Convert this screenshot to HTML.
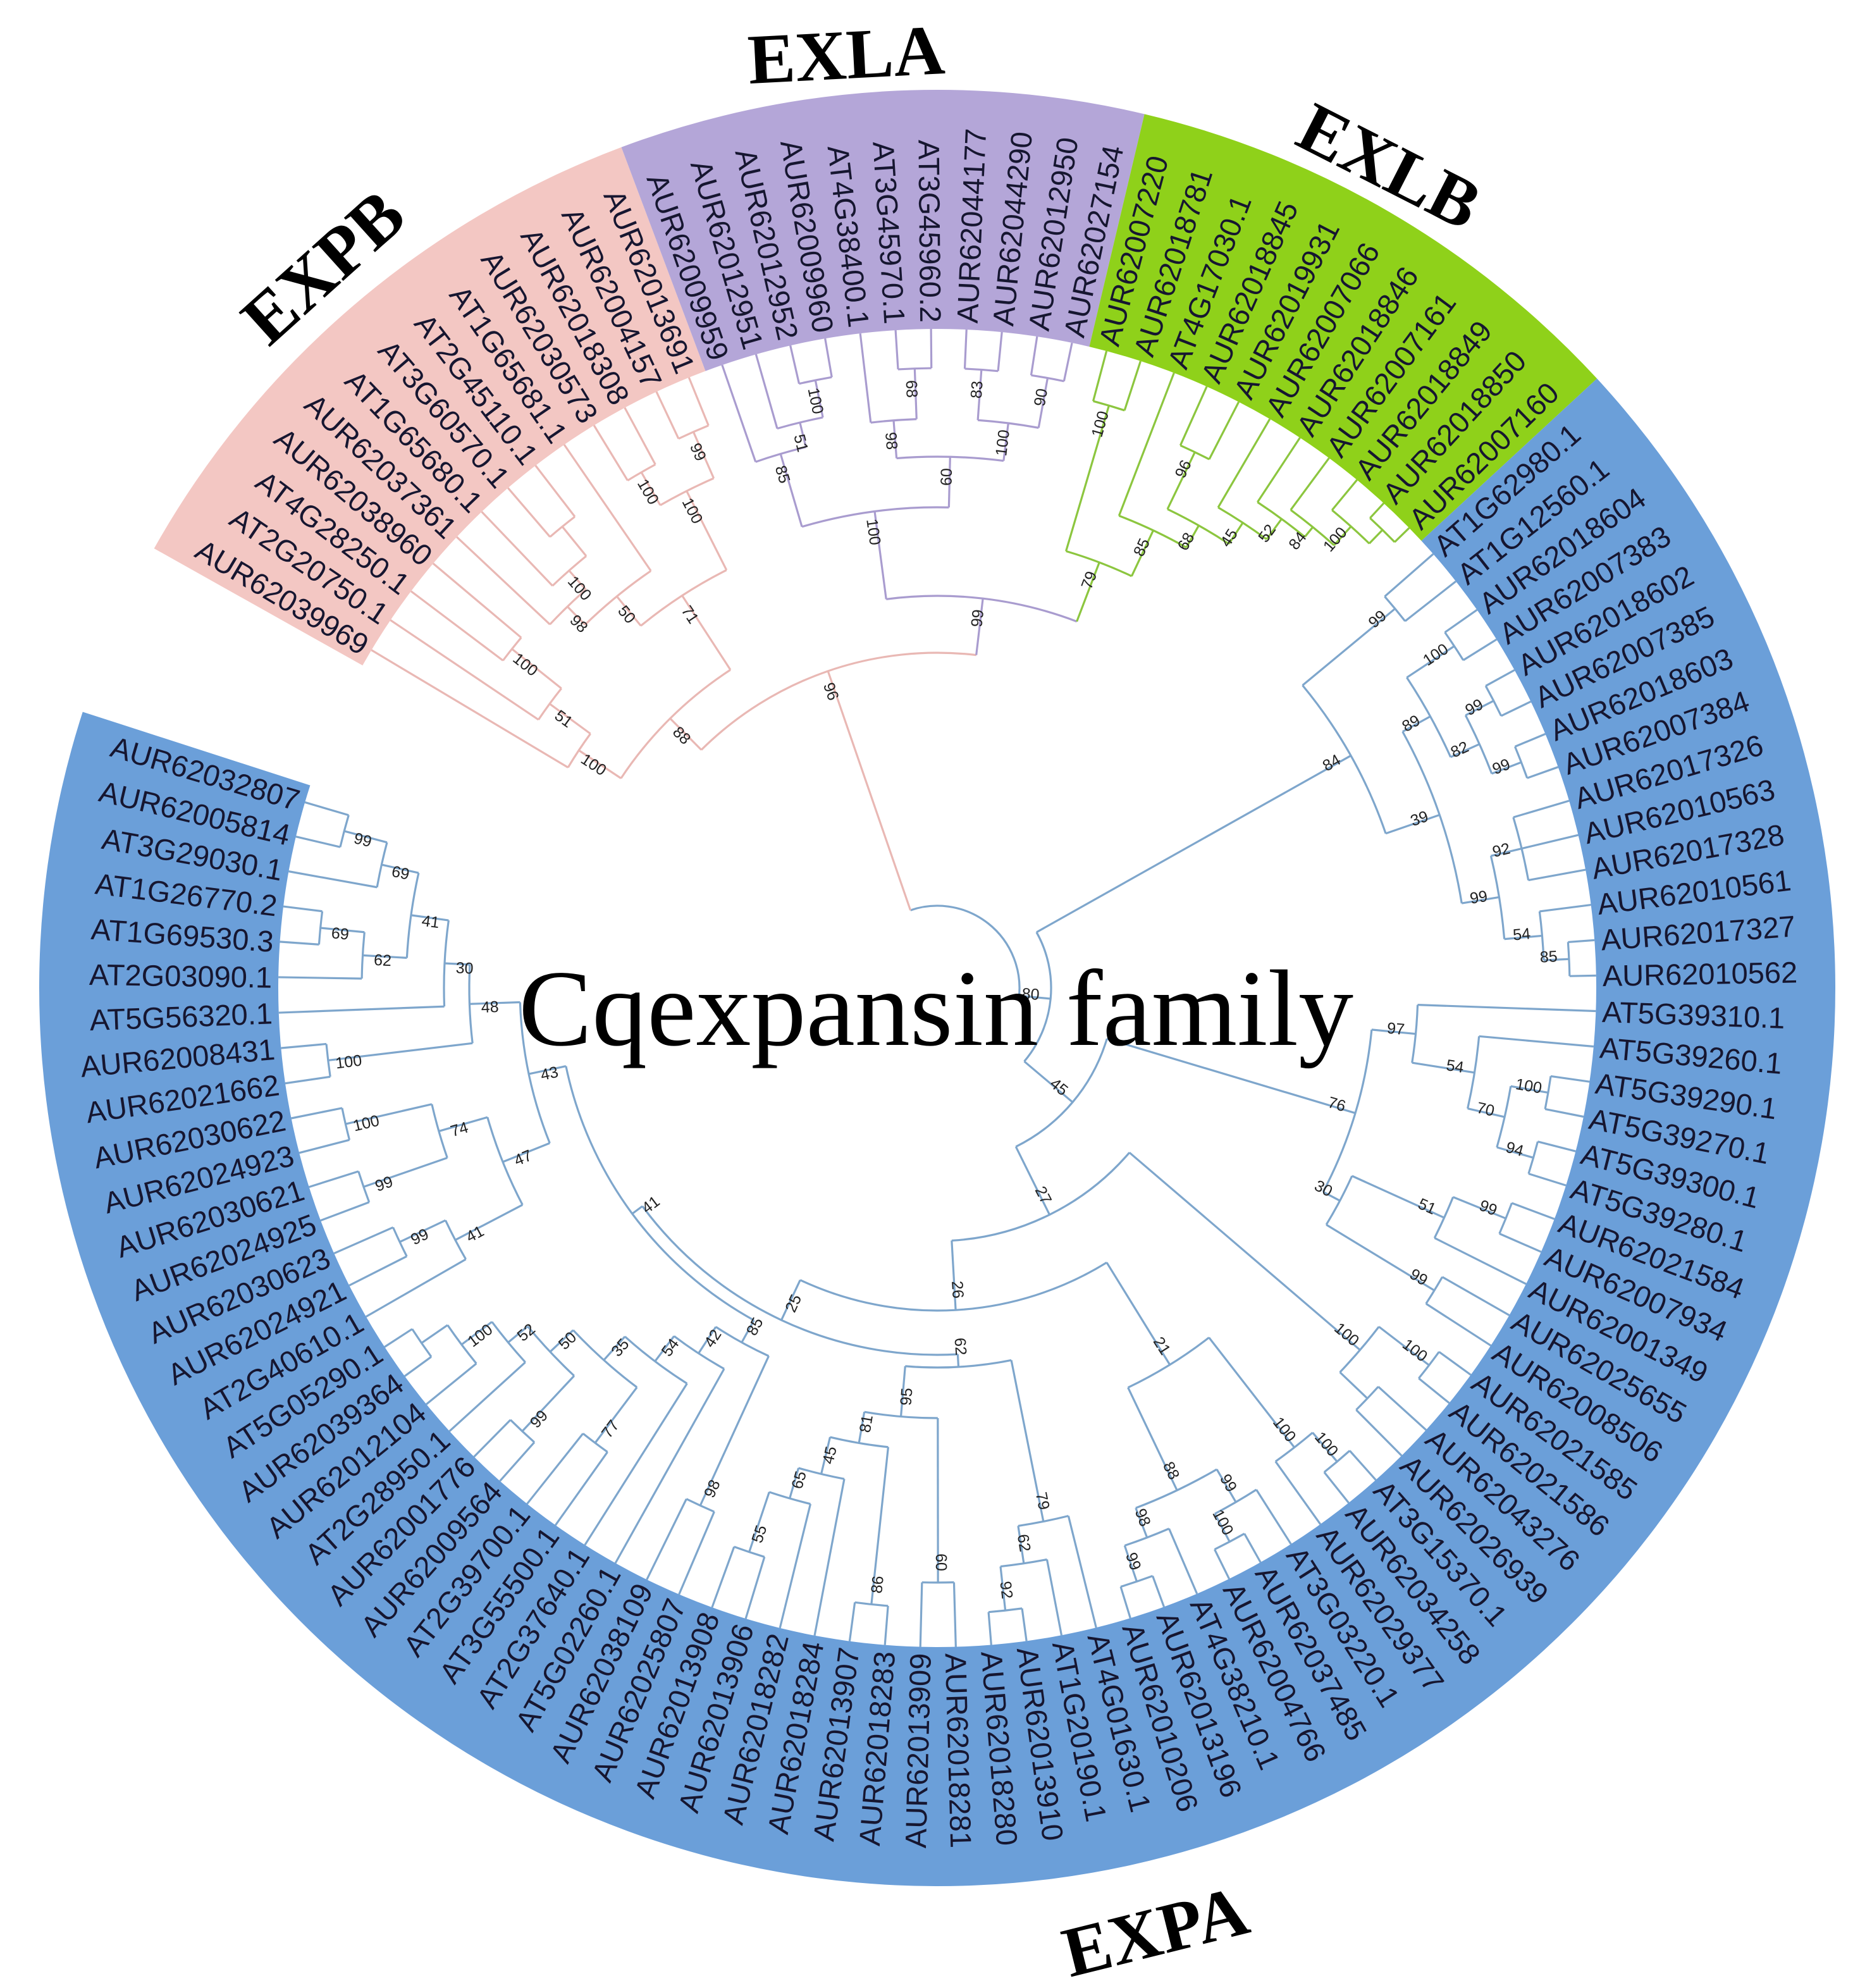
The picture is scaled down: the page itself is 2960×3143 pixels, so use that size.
<!DOCTYPE html>
<html><head><meta charset="utf-8"><style>
html,body{margin:0;padding:0;background:#fff}
svg{display:block}
.lf{font-family:"Liberation Sans",sans-serif;font-size:23.5px;fill:#161630}
.bs{font-family:"Liberation Sans",sans-serif;font-size:12.5px;fill:#222}
.gt{font-family:"Liberation Serif",serif;font-weight:bold;font-size:56px;fill:#000}
</style></head><body>
<svg id="s" width="2960" height="3143" viewBox="0 0 1480 1571.5" xmlns="http://www.w3.org/2000/svg">
<g id="bands"></g>
<g id="tree" fill="none" stroke-width="1.6"></g>
<g id="boots"></g>
<g id="leaves">
<text class="lf">AUR62039969</text><text class="lf">AT2G20750.1</text><text class="lf">AT4G28250.1</text><text class="lf">AUR62038960</text><text class="lf">AUR62037361</text><text class="lf">AT1G65680.1</text><text class="lf">AT3G60570.1</text><text class="lf">AT2G45110.1</text><text class="lf">AT1G65681.1</text><text class="lf">AUR62030573</text><text class="lf">AUR62018308</text><text class="lf">AUR62004157</text><text class="lf">AUR62013691</text>
<text class="lf">AUR62009959</text><text class="lf">AUR62012951</text><text class="lf">AUR62012952</text><text class="lf">AUR62009960</text><text class="lf">AT4G38400.1</text><text class="lf">AT3G45970.1</text><text class="lf">AT3G45960.2</text><text class="lf">AUR62044177</text><text class="lf">AUR62044290</text><text class="lf">AUR62012950</text><text class="lf">AUR62027154</text>
<text class="lf">AUR62007220</text><text class="lf">AUR62018781</text><text class="lf">AT4G17030.1</text><text class="lf">AUR62018845</text><text class="lf">AUR62019931</text><text class="lf">AUR62007066</text><text class="lf">AUR62018846</text><text class="lf">AUR62007161</text><text class="lf">AUR62018849</text><text class="lf">AUR62018850</text><text class="lf">AUR62007160</text>
<text class="lf">AT1G62980.1</text><text class="lf">AT1G12560.1</text><text class="lf">AUR62018604</text><text class="lf">AUR62007383</text><text class="lf">AUR62018602</text><text class="lf">AUR62007385</text><text class="lf">AUR62018603</text><text class="lf">AUR62007384</text><text class="lf">AUR62017326</text><text class="lf">AUR62010563</text><text class="lf">AUR62017328</text><text class="lf">AUR62010561</text><text class="lf">AUR62017327</text><text class="lf">AUR62010562</text>
<text class="lf">AT5G39310.1</text><text class="lf">AT5G39260.1</text><text class="lf">AT5G39290.1</text><text class="lf">AT5G39270.1</text><text class="lf">AT5G39300.1</text><text class="lf">AT5G39280.1</text><text class="lf">AUR62021584</text><text class="lf">AUR62007934</text><text class="lf">AUR62001349</text><text class="lf">AUR62025655</text><text class="lf">AUR62008506</text><text class="lf">AUR62021585</text><text class="lf">AUR62021586</text><text class="lf">AUR62043276</text><text class="lf">AUR62026939</text>
<text class="lf">AT3G15370.1</text><text class="lf">AUR62034258</text><text class="lf">AUR62029377</text><text class="lf">AT3G03220.1</text><text class="lf">AUR62037485</text><text class="lf">AUR62004766</text><text class="lf">AT4G38210.1</text><text class="lf">AUR62013196</text><text class="lf">AUR62010206</text><text class="lf">AT4G01630.1</text><text class="lf">AT1G20190.1</text><text class="lf">AUR62013910</text><text class="lf">AUR62018280</text><text class="lf">AUR62018281</text><text class="lf">AUR62013909</text><text class="lf">AUR62018283</text><text class="lf">AUR62013907</text><text class="lf">AUR62018284</text><text class="lf">AUR62018282</text><text class="lf">AUR62013906</text><text class="lf">AUR62013908</text>
<text class="lf">AUR62025807</text><text class="lf">AUR62038109</text><text class="lf">AT5G02260.1</text><text class="lf">AT2G37640.1</text><text class="lf">AT3G55500.1</text><text class="lf">AT2G39700.1</text><text class="lf">AUR62009564</text><text class="lf">AUR62001776</text><text class="lf">AT2G28950.1</text><text class="lf">AUR62012104</text><text class="lf">AUR62039364</text><text class="lf">AT5G05290.1</text><text class="lf">AT2G40610.1</text><text class="lf">AUR62024921</text><text class="lf">AUR62030623</text><text class="lf">AUR62024925</text><text class="lf">AUR62030621</text><text class="lf">AUR62024923</text><text class="lf">AUR62030622</text><text class="lf">AUR62021662</text><text class="lf">AUR62008431</text><text class="lf">AT5G56320.1</text><text class="lf">AT2G03090.1</text><text class="lf">AT1G69530.3</text><text class="lf">AT1G26770.2</text><text class="lf">AT3G29030.1</text><text class="lf">AUR62005814</text><text class="lf">AUR62032807</text>
</g>
<text class="gt" transform="translate(670,62) rotate(-3)" text-anchor="middle">EXLA</text>
<text class="gt" transform="translate(268,225) rotate(-42)" text-anchor="middle">EXPB</text>
<text class="gt" transform="translate(1090,148) rotate(27)" text-anchor="middle">EXLB</text>
<text class="gt" transform="translate(918,1545) rotate(-14)" text-anchor="middle">EXPA</text>
<text x="740" y="826" text-anchor="middle" textLength="660" lengthAdjust="spacingAndGlyphs" style="font-family:'Liberation Serif',serif;font-size:86px;fill:#000">Cqexpansin family</text>
</svg>
<script>
(function(){
var NS="http://www.w3.org/2000/svg";
var CX=741,CY=781,SX=1,RI=521,RO=710;
var A0=-150.7,ST=3.085;
function la(i){return A0+(i+0.5)*ST;}
function rad(a){return a*Math.PI/180;}
function P(a,r){return [CX+SX*r*Math.cos(rad(a)),CY+r*Math.sin(rad(a))];}
function el(tag,at,par){var e=document.createElementNS(NS,tag);for(var k in at)e.setAttribute(k,at[k]);par.appendChild(e);return e;}
function f(n){return n.toFixed(2);}
var bands=[[0,13,"#f3c7c3"],[13,24,"#b4a6d8"],[24,35,"#8fd11a"],[35,113,"#6b9fd9"]];
var bg=document.getElementById("bands");
bands.forEach(function(b){
 var a1=A0+b[0]*ST,a2=A0+b[1]*ST,lg=(a2-a1)>180?1:0;
 var p1=P(a1,RO),p2=P(a2,RO),p3=P(a2,RI),p4=P(a1,RI);
 el("path",{d:"M"+f(p1[0])+","+f(p1[1])+" A"+f(SX*RO)+","+RO+" 0 "+lg+" 1 "+f(p2[0])+","+f(p2[1])+" L"+f(p3[0])+","+f(p3[1])+" A"+f(SX*RI)+","+RI+" 0 "+lg+" 0 "+f(p4[0])+","+f(p4[1])+"Z",fill:b[2]},bg);
});
var lv=document.querySelectorAll("#leaves text");
for(var i=0;i<lv.length;i++){
 var a=la(i),p=P(a,RI+5);
 var d=Math.atan2(Math.sin(rad(a)),SX*Math.cos(rad(a)))*180/Math.PI;
 var t=lv[i];
 if(Math.cos(rad(d))>=0){t.setAttribute("text-anchor","start");t.setAttribute("transform","translate("+f(p[0])+","+f(p[1])+") rotate("+f(d)+")");}
 else{t.setAttribute("text-anchor","end");t.setAttribute("transform","translate("+f(p[0])+","+f(p[1])+") rotate("+f(d+180)+")");}
 t.setAttribute("dy","0.36em");
}
function N(r,l){return {r:r,l:l,c:Array.prototype.slice.call(arguments,2)};}
var P_=N(300,'88',
  N(340,'100',0,N(380,'51',1,N(430,'100',2,3))),
  N(370,'71',N(400,'50',N(420,'98',4,N(440,'100',5,N(470,'',6,7))),8),N(440,'100',N(470,'100',9,10),N(480,'99',11,12))));
var LA=N(380,'100',N(440,'85',13,N(460,'51',14,N(490,'100',15,16))),N(420,'60',N(450,'98',17,N(490,'68',18,19)),N(450,'100',N(490,'83',20,21),N(490,'90',22,23))));
var LB=N(360,'79',N(480,'100',24,25),N(400,'85',26,N(420,'68',N(470,'96',27,28),N(440,'45',29,N(460,'52',30,N(470,'84',31,N(490,'100',32,N(505,'',33,34))))))));
var TOP=N(265,'96',P_,N(310,'99',LA,LB));
var B84=N(375,'84',N(470,'99',35,36),N(420,'39',N(445,'89',N(490,'100',37,38),N(470,'82',N(495,'99',39,40),N(495,'99',41,42))),N(450,'99',N(475,'92',43,44,45),N(480,'54',46,N(500,'85',47,48)))));
var B76=N(345,'76',N(380,'97',49,N(430,'54',50,N(460,'70',N(490,'100',51,52),N(490,'94',53,54)))),N(360,'30',N(440,'51',N(485,'99',55,56),57),N(460,'99',58,59)));
var B100=N(440,'100',N(490,'100',60,61),N(470,'',62,63));
var B21=N(350,'21',N(460,'100',N(490,'100',64,65),66),N(440,'88',N(470,'99',67,N(495,'100',68,69)),N(465,'98',70,N(495,'99',71,72))));
var B62=N(300,'62',N(430,'79',73,N(460,'62',74,N(495,'92',75,76))),N(340,'95',N(470,'60',77,78),N(365,'81',N(490,'86',79,80),N(395,'45',81,N(420,'65',82,N(470,'55',83,84))))));
var B85=N(320,'85',N(450,'98',85,86),N(345,'42',87,N(370,'54',88,N(395,'35',N(450,'77',89,90),N(420,'50',N(480,'99',91,92),N(440,'52',93,N(470,'100',94,N(495,'',95,96))))))));
var B43=N(330,'43',N(370,'47',N(430,'41',97,N(470,'99',98,99)),N(410,'74',N(480,'99',100,101),N(480,'100',102,103))),N(370,'48',N(485,'100',104,105),N(390,'30',106,N(420,'41',N(455,'62',107,N(490,'69',108,109)),N(450,'69',110,N(485,'99',111,112))))));
var BLUE=N(90,'80',B84,N(140,'45',B76,N(200,'27',B100,N(255,'26',B21,N(290,'25',B62,N(300,'41',B85,B43))))));
var ROOT=N(65,'',TOP,BLUE);
var tg=document.getElementById("tree"),bo=document.getElementById("boots");
function col(n){var i=n;while(typeof i!=="number")i=i.c[0];if(i<13)return"#e9b8b4";if(i<24)return"#a99ccf";if(i<35)return"#8cc63f";return"#7ea6cc";}
function ang(n){if(typeof n==="number")return la(n);return (ang(n.c[0])+ang(n.c[n.c.length-1]))/2;}
function rr(n){return typeof n==="number"?RI:n.r;}
function draw(n){
 var cs=n.c.map(ang);
 var a1=cs[0],a2=cs[cs.length-1],p1=P(a1,n.r),p2=P(a2,n.r),c=col(n);
 if(n===ROOT)c="#7ea6cc";
 el("path",{d:"M"+f(p1[0])+","+f(p1[1])+" A"+f(SX*n.r)+","+n.r+" 0 "+((a2-a1)>180?1:0)+" 1 "+f(p2[0])+","+f(p2[1]),stroke:c},tg);
 n.c.forEach(function(ch,k){
  var q1=P(cs[k],n.r),q2=P(cs[k],rr(ch));
  el("line",{x1:f(q1[0]),y1:f(q1[1]),x2:f(q2[0]),y2:f(q2[1]),stroke:col(ch)},tg);
  if(typeof ch!=="number"){
   if(ch.l){var rl=ch.r-16,al=cs[k]-1.1*(300/ch.r)*0.5,pp=P(al,rl);
    var d=Math.atan2(Math.sin(rad(al)),SX*Math.cos(rad(al)))*180/Math.PI;
    var rot=Math.cos(rad(d))>=0?d:d+180;
    el("text",{class:"bs","text-anchor":"middle",dy:"0.35em",transform:"translate("+f(pp[0])+","+f(pp[1])+") rotate("+f(rot)+")"},bo).textContent=ch.l;}
   draw(ch);}
 });
}
draw(ROOT);
})();
</script>
</body></html>
